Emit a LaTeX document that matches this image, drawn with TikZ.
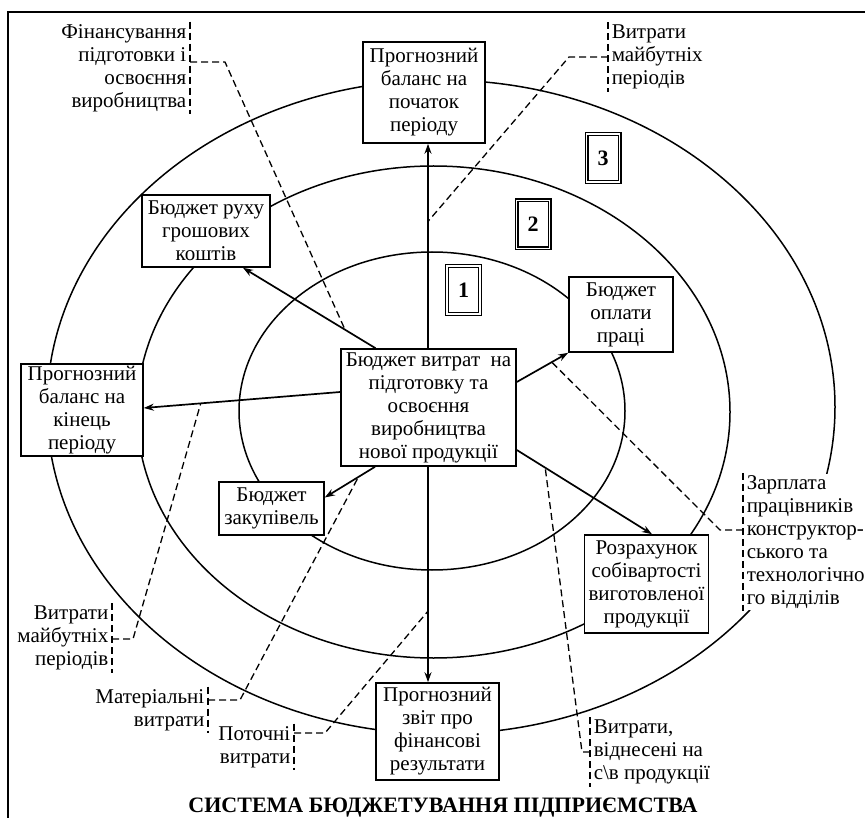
\documentclass[tikz,border=0pt]{standalone}
\usepackage{fontspec}
\setmainfont{Liberation Serif}
\usetikzlibrary{arrows.meta}
\begin{document}
\begin{tikzpicture}[x=1pt, y=-1pt, line width=1.5pt,
  every node/.style={font=\fontsize{21}{23}\selectfont},
  box/.style={draw, fill=white, align=center, inner xsep=4pt, inner ysep=1pt, line width=1.6pt},
  numbox/.style={draw, double, double distance=1.8pt, line width=1.1pt, fill=white,
    minimum width=33pt, minimum height=48pt, font=\fontsize{22}{24}\selectfont\bfseries},
  note/.style={fill=white, inner xsep=3pt, inner ysep=2pt},
  lead/.style={line width=1.3pt, dash pattern=on 7pt off 4pt},
  arr/.style={-{Stealth[length=10pt, width=7pt]}, line width=1.7pt}]
\useasboundingbox (0,0) rectangle (865,818);
% frame
\draw[line width=1.8pt] (8,830) -- (8,12) -- (875,12);
% three rings
\draw (441,407) ellipse [x radius=394pt, y radius=327pt];
\draw (433.5,412) ellipse [x radius=296.5pt, y radius=246pt];
\draw (432,411) ellipse [x radius=193pt, y radius=159pt];
\node[numbox] (ring1) at (463.5,290) {1};
\node[numbox] (ring2) at (533,224.5) {2};
\node[numbox] (ring3) at (603,158) {3};
% budgets
\node[box, minimum width=122pt, minimum height=101pt] (topbal) at (424,92.5) {Прогнозний\\баланс на\\початок\\періоду};
\node[box, minimum width=128pt, minimum height=72pt] (cash) at (206,231) {Бюджет руху\\грошових\\коштів};
\node[box, minimum width=104pt, minimum height=75pt] (wage) at (621,314.5) {Бюджет\\оплати\\праці};
\node[box, minimum width=175pt, minimum height=117pt] (central) at (428.5,407.5) {Бюджет витрат\ \ на\\підготовку та\\освоєння\\виробництва\\нової продукції};
\node[box, minimum width=122pt, minimum height=92pt] (endbal) at (82,410) {Прогнозний\\баланс на\\кінець\\періоду};
\node[box, minimum width=105pt, minimum height=53pt] (purch) at (271.5,508.5) {Бюджет\\закупівель};
\node[box, minimum width=123pt, minimum height=98pt] (cost) at (646.5,584) {Розрахунок\\собівартості\\виготовленої\\продукції};
\node[box, minimum width=123pt, minimum height=97pt] (result) at (437.5,731.5) {Прогнозний\\звіт про\\фінансові\\результати};
% flows
\draw[arr] ([xshift=-0.5pt]central.north) -- coordinate[pos=0.62] (onTop) ([xshift=-0.5pt]central.north |- topbal.south);
\draw[arr] ([xshift=-53pt]central.north) -- coordinate[pos=0.23] (onCash) ([xshift=37pt]cash.south);
\draw[arr] ([yshift=15.5pt]central.west) -- coordinate[pos=0.71] (onEnd) ([yshift=2pt]endbal.east);
\draw[arr] ([yshift=25.5pt]central.east) -- coordinate[pos=0.68] (onWage) (wage.south west);
\draw[arr] ([xshift=-53.5pt]central.south) -- coordinate[pos=0.33] (onPurch) ([yshift=11pt]purch.east);
\draw[arr] ([yshift=-42.5pt]central.east) -- coordinate[pos=0.21] (onCost) ([xshift=5.5pt]cost.north);
\draw[arr] ([xshift=-0.5pt]central.south) -- coordinate[pos=0.67] (onRes) ([xshift=-0.5pt]central.south |- result.north);
% notes
\node[note, align=right, anchor=east] (finNote) at (190,68) {Фінансування\\підготовки і\\освоєння\\виробництва};
\draw[lead] (finNote.north east) -- (finNote.south east);
\draw[lead] ([yshift=6pt]finNote.east) -- ++(35,0) -- (onCash);
\node[note, align=left, anchor=west] (futNote) at (608,57) {Витрати\\майбутніх\\періодів};
\draw[lead] (futNote.north west) -- (futNote.south west);
\draw[lead] (futNote.west) -- ++(-39,0) -- (onTop);
\node[note, align=left, anchor=west] (wageNote) at (743,542) {Зарплата\\працівників\\конструктор-\\ського та\\технологічно\\го відділів};
\draw[lead] (wageNote.north west) -- (wageNote.south west);
\draw[lead] ([yshift=12pt]wageNote.west) -- ++(-23,0) -- (onWage);
\node[note, align=left, anchor=west] (costNote) at (590,752) {Витрати,\\віднесені на\\с\textbackslash в продукції};
\draw[lead] (costNote.north west) -- (costNote.south west);
\draw[lead] (costNote.west) -- ++(-8,0) -- (onCost);
\node[note, align=right, anchor=east] (curNote) at (294,747) {Поточні\\витрати};
\draw[lead] (curNote.north east) -- (curNote.south east);
\draw[lead] ([yshift=14pt]curNote.east) -- ++(31,0) -- (onRes);
\node[note, align=right, anchor=east] (matNote) at (208,710) {Матеріальні\\витрати};
\draw[lead] (matNote.north east) -- (matNote.south east);
\draw[lead] ([yshift=10pt]matNote.east) -- ++(32,0) -- (onPurch);
\node[note, align=right, anchor=east] (lfutNote) at (112,638) {Витрати\\майбутніх\\періодів};
\draw[lead] (lfutNote.north east) -- (lfutNote.south east);
\draw[lead] ([yshift=-1pt]lfutNote.east) -- ++(21,0) -- (onEnd);
% caption
\node[font=\fontsize{22}{24}\selectfont\bfseries] (title) at (443,808) {СИСТЕМА БЮДЖЕТУВАННЯ ПІДПРИЄМСТВА};
\end{tikzpicture}
\end{document}
